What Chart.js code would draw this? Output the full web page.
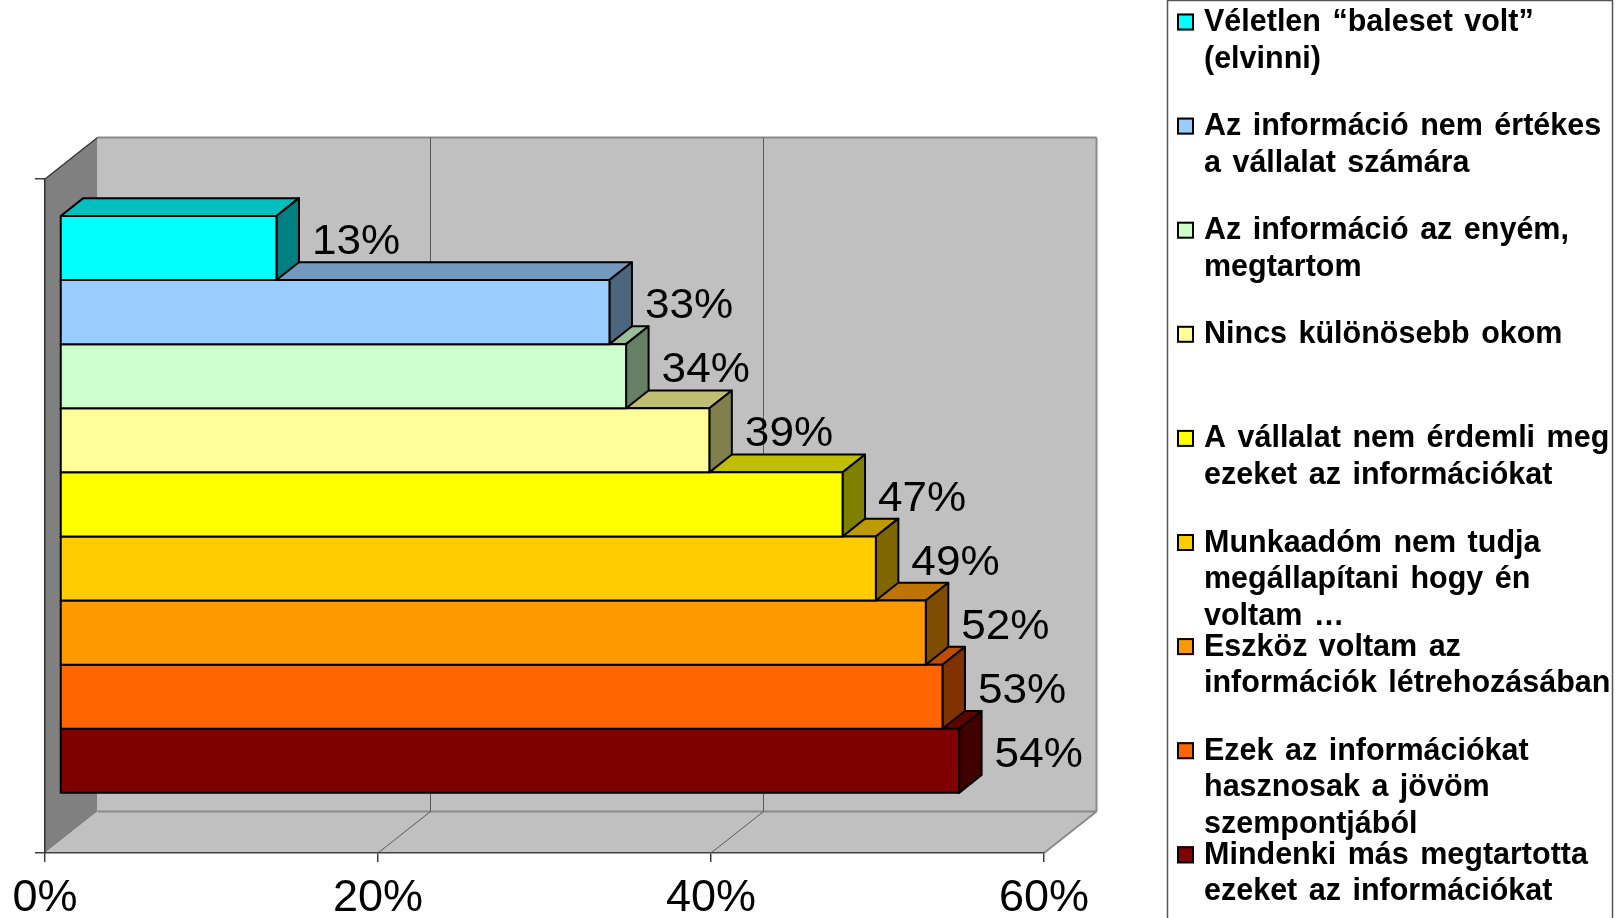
<!DOCTYPE html>
<html>
<head>
<meta charset="utf-8">
<title>Okok</title>
<script src="https://cdn.jsdelivr.net/npm/chart.js@4.4.1/dist/chart.umd.min.js"></script>
<style>
  html, body { margin: 0; padding: 0; background: #fff; }
  #chart { display: block; }
</style>
</head>
<body>
<canvas id="chart" width="1618" height="918"></canvas>
<script>
// data
const categories = [
  ["Véletlen “baleset volt”", "(elvinni)"],
  ["Az információ nem értékes", "a vállalat számára"],
  ["Az információ az enyém,", "megtartom"],
  ["Nincs különösebb okom"],
  ["A vállalat nem érdemli meg", "ezeket az információkat"],
  ["Munkaadóm nem tudja", "megállapítani hogy én", "voltam …"],
  ["Eszköz voltam az", "információk létrehozásában"],
  ["Ezek az információkat", "hasznosak a jövöm", "szempontjából"],
  ["Mindenki más megtartotta", "ezeket az információkat"]
];
const values = [13, 33, 34, 39, 47, 49, 52, 53, 54];
const barColors = ["#00FFFF", "#99CCFF", "#CCFFCC", "#FFFF99", "#FFFF00", "#FFCC00", "#FF9900", "#FF6600", "#800000"];
const xTicks = [0, 20, 40, 60];

// 3d look
const WALL = { dx: 52.5, dy: -41.5 };
const FRONT = { dx: 15, dy: -11.6 };
const BAR = { dx: 22.5, dy: -17.8 };
const FONT = '"Liberation Sans", Arial, sans-serif';

function shade(hex, f) {
  const n = parseInt(hex.slice(1), 16);
  const r = Math.round(((n >> 16) & 255) * f);
  const g = Math.round(((n >> 8) & 255) * f);
  const b = Math.round((n & 255) * f);
  return `rgb(${r},${g},${b})`;
}

function poly(ctx, pts, fill, stroke, lw) {
  ctx.beginPath();
  ctx.moveTo(pts[0][0], pts[0][1]);
  for (let i = 1; i < pts.length; i++) ctx.lineTo(pts[i][0], pts[i][1]);
  ctx.closePath();
  if (fill) { ctx.fillStyle = fill; ctx.fill(); }
  if (stroke) { ctx.strokeStyle = stroke; ctx.lineWidth = lw || 1; ctx.stroke(); }
}

function line(ctx, x1, y1, x2, y2, color, lw) {
  ctx.beginPath();
  ctx.moveTo(x1, y1);
  ctx.lineTo(x2, y2);
  ctx.strokeStyle = color;
  ctx.lineWidth = lw;
  ctx.stroke();
}

// walls and floor, behind everything
const wallsPlugin = {
  id: "walls",
  beforeDraw(chart) {
    const ctx = chart.ctx;
    const a = chart.chartArea;
    const xs = chart.scales.x;
    const L = a.left, R = a.right, T = a.top, B = a.bottom;
    const dx = WALL.dx, dy = WALL.dy;
    ctx.save();
    // left wall
    poly(ctx, [[L, T], [L + dx, T + dy], [L + dx, B + dy], [L, B]], "#808080");
    // back wall
    poly(ctx, [[L + dx, T + dy], [R + dx, T + dy], [R + dx, B + dy], [L + dx, B + dy]], "#C0C0C0");
    // floor
    poly(ctx, [[L, B], [R, B], [R + dx, B + dy], [L + dx, B + dy]], "#C0C0C0");
    line(ctx, L + dx, T + dy, R + dx, T + dy, "#8a8a8a", 2);
    line(ctx, L + dx, B + dy, R + dx, B + dy, "#8a8a8a", 2);
    line(ctx, L, T, L + dx, T + dy, "#303030", 1.2);
    // gridlines on back wall and floor
    xTicks.forEach((v) => {
      if (v === xTicks[0]) return;
      const px = xs.getPixelForValue(v);
      const last = v === xTicks[xTicks.length - 1];
      const c = last ? "#8a8a8a" : "#5a5a5a";
      const w = last ? 2 : 1;
      line(ctx, px, B, px + dx, B + dy, c, w);
      line(ctx, px + dx, B + dy, px + dx, T + dy, c, w);
    });
    ctx.restore();
  }
};

// bar top and right faces, bar outline
const barsPlugin = {
  id: "bars3d",
  beforeDatasetDraw(chart, args) {
    const ctx = chart.ctx;
    const el = args.meta.data[0];
    const color = barColors[args.index];
    const top = el.y - el.height / 2, bot = el.y + el.height / 2;
    const l = el.base, r = el.x;
    ctx.save();
    ctx.translate(FRONT.dx, FRONT.dy);
    ctx.lineJoin = "round";
    poly(ctx, [[l, top], [r, top], [r + BAR.dx, top + BAR.dy], [l + BAR.dx, top + BAR.dy]], shade(color, 0.75), "#000", 2);
    poly(ctx, [[r, top], [r + BAR.dx, top + BAR.dy], [r + BAR.dx, bot + BAR.dy], [r, bot]], shade(color, 0.5), "#000", 2);
  },
  afterDatasetDraw(chart, args) {
    const ctx = chart.ctx;
    const el = args.meta.data[0];
    const top = el.y - el.height / 2;
    ctx.strokeStyle = "#000";
    ctx.lineWidth = 2;
    ctx.strokeRect(el.base, top, el.x - el.base, el.height);
    ctx.restore();
  },
  afterDatasetsDraw(chart) {
    const ctx = chart.ctx;
    ctx.font = "42px " + FONT;
    ctx.fillStyle = "#000";
    ctx.textBaseline = "alphabetic";
    ctx.textAlign = "left";
    chart.data.datasets.forEach((ds, i) => {
      const el = chart.getDatasetMeta(i).data[0];
      const x = el.x + FRONT.dx + BAR.dx + 13;
      const y = el.y + FRONT.dy + BAR.dy / 2 + 15;
      // the source text is a bit wider than the font
      ctx.save();
      ctx.translate(x, y);
      ctx.scale(1.05, 1);
      ctx.fillText(ds.data[0] + "%", 0, 0);
      ctx.restore();
    });
  }
};

// legend box on the right
const legendPlugin = {
  id: "sideLegend",
  afterDraw(chart) {
    const ctx = chart.ctx;
    const boxL = 1167.5, boxR = 1612.5;
    const firstY = 22, step = 104.1, lineH = 36.5;
    ctx.save();
    ctx.strokeStyle = "#555";
    ctx.lineWidth = 1.5;
    ctx.strokeRect(boxL, 0.5, boxR - boxL, 940);
    ctx.font = "bold 30.5px " + FONT;
    ctx.wordSpacing = "3px";
    ctx.fillStyle = "#000";
    ctx.textBaseline = "alphabetic";
    chart.data.datasets.forEach((ds, i) => {
      const cy = firstY + i * step;
      ctx.fillStyle = ds.backgroundColor;
      ctx.fillRect(1177, cy - 8.5, 17, 17);
      ctx.strokeStyle = "#000";
      ctx.lineWidth = 2;
      ctx.strokeRect(1178, cy - 7.5, 15, 15);
      ctx.fillStyle = "#000";
      ds.label.forEach((t, j) => ctx.fillText(t, 1204, cy + 9 + j * lineH));
    });
    ctx.restore();
  }
};

const datasets = values.map((v, i) => ({
  label: categories[i],
  data: [v],
  backgroundColor: barColors[i],
  borderWidth: 0,
  clip: false,
  categoryPercentage: 0.856,
  barPercentage: 1
}));

new Chart(document.getElementById("chart"), {
  type: "bar",
  data: { labels: [""], datasets: datasets },
  plugins: [wallsPlugin, barsPlugin, legendPlugin],
  options: {
    indexAxis: "y",
    responsive: false,
    animation: false,
    devicePixelRatio: 1,
    layout: { padding: { left: 0, top: 179, right: 574, bottom: 0 } },
    plugins: { legend: { display: false }, tooltip: { enabled: false } },
    scales: {
      x: {
        type: "linear",
        min: xTicks[0],
        max: xTicks[xTicks.length - 1],
        afterBuildTicks: (s) => { s.ticks = xTicks.map((v) => ({ value: v })); },
        afterFit: (s) => { s.height = 65; },
        ticks: {
          callback: (v) => v + "%",
          font: { family: FONT, size: 45 },
          color: "#000",
          padding: 10,
          maxRotation: 0
        },
        grid: { drawOnChartArea: false, drawTicks: true, tickLength: 9, color: "#404040", lineWidth: 1.5 },
        border: { display: true, color: "#404040", width: 1.5 }
      },
      y: {
        type: "category",
        afterFit: (s) => { s.width = 45; },
        ticks: { display: false },
        grid: { drawOnChartArea: false, drawTicks: true, tickLength: 10, color: "#404040", lineWidth: 1.5 },
        border: { display: true, color: "#303030", width: 1.5 }
      }
    }
  }
});
</script>
</body>
</html>
